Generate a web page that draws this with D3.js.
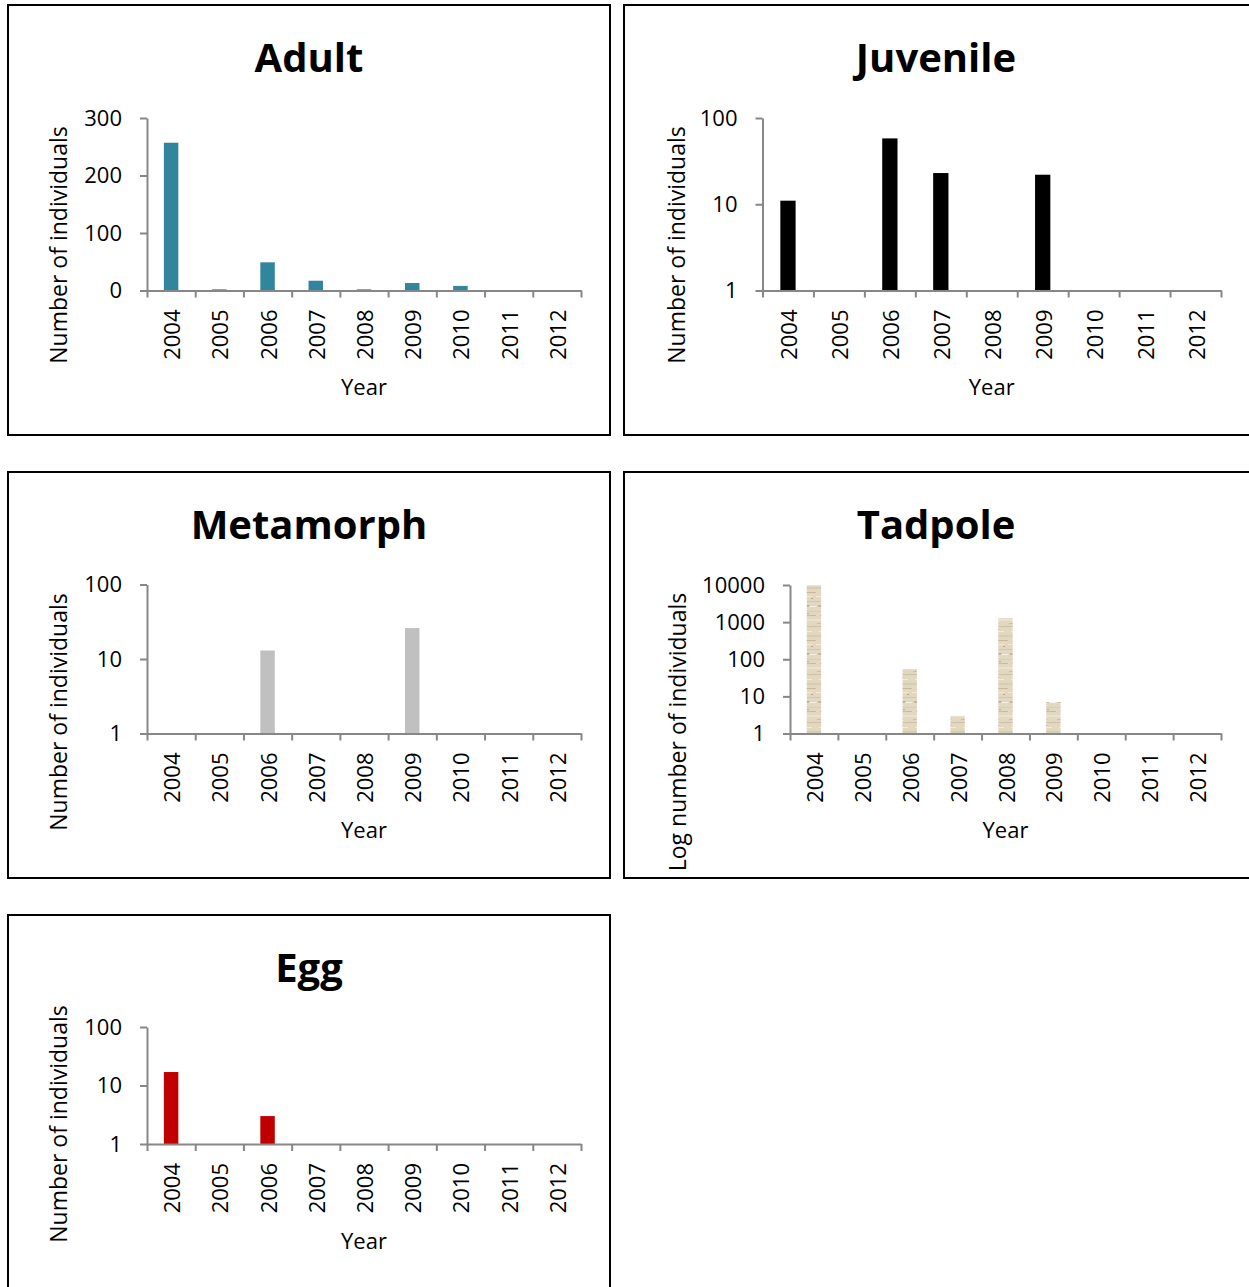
<!DOCTYPE html>
<html lang="en">
<head>
    <meta charset="UTF-8">
    <title>Life stage counts by year</title>
    <style>
        body {
            margin: 0;
            padding: 0;
            background: #fff;
        }
        svg text {
            font-family: 'Open Sans', sans-serif;
            fill: #000;
        }
        .panel-box {
            fill: none;
            stroke: #000;
            stroke-width: 2px;
        }
        .axis path, .axis line {
            stroke: #878787;
            stroke-width: 2px;
        }
        .axis text {
            font-size: 22px;
        }
        .panel-title {
            font-size: 40px;
            font-weight: bold;
        }
        .axis-title {
            font-size: 22px;
        }
        .y-title {
            font-size: 23px;
        }
    </style>
</head>
<body>
    <svg id="chart"></svg>

    <script src="https://d3js.org/d3.v7.min.js"></script>
    <script>
        // Data
        const years = ['2004', '2005', '2006', '2007', '2008', '2009', '2010', '2011', '2012'];
        const adultCounts = [257, 2, 49, 17, 2, 13, 8, 0, 0];
        const juvenileCounts = [11, 0, 58, 23, 0, 22, 0, 0, 0];
        const metamorphCounts = [0, 0, 13, 0, 0, 26, 0, 0, 0];
        const tadpoleCounts = [9800, 0, 54, 3, 1280, 7, 0, 0, 0];
        const eggCounts = [17, 0, 3, 0, 0, 0, 0, 0, 0];

        const adultTicks = [0, 100, 200, 300];
        const logTicks = [1, 10, 100];
        const tadpoleTicks = [1, 10, 100, 1000, 10000];

        // Layout of each panel (box, plot area, label spots)
        const panels = [
            { title: 'Adult', yTitle: 'Number of individuals', values: adultCounts, ticks: adultTicks,
              log: false, fill: '#31859C',
              box: [8, 5, 602, 430], x0: 147, x1: 581, yTop: 118, yBot: 290.5, titleX: 309, yTitleX: 67, yTitleY: 245 },
            { title: 'Juvenile', yTitle: 'Number of individuals', values: juvenileCounts, ticks: logTicks,
              log: true, fill: '#000',
              box: [624, 5, 660, 430], x0: 762.5, x1: 1221, yTop: 118, yBot: 290.5, titleX: 936, yTitleX: 685, yTitleY: 245 },
            { title: 'Metamorph', yTitle: 'Number of individuals', values: metamorphCounts, ticks: logTicks,
              log: true, fill: '#C0C0C0',
              box: [8, 472, 602, 406], x0: 147, x1: 581, yTop: 584.5, yBot: 733.5, titleX: 309, yTitleX: 67, yTitleY: 712 },
            { title: 'Tadpole', yTitle: 'Log number of individuals', values: tadpoleCounts, ticks: tadpoleTicks,
              log: true, fill: 'url(#papyrus)',
              box: [624, 472, 660, 406], x0: 790, x1: 1221, yTop: 585, yBot: 733.5, titleX: 936, yTitleX: 686, yTitleY: 732 },
            { title: 'Egg', yTitle: 'Number of individuals', values: eggCounts, ticks: logTicks,
              log: true, fill: '#C00000',
              box: [8, 915, 602, 400], x0: 147, x1: 581, yTop: 1027, yBot: 1144, titleX: 309, yTitleX: 67, yTitleY: 1124 }
        ];

        const width = 1249;
        const height = 1287;

        const svg = d3.select('#chart')
            .attr('width', width)
            .attr('height', height);

        svg.append('rect')
            .attr('width', width)
            .attr('height', height)
            .attr('fill', '#fff');

        // Texture for the tadpole bars (beige paper look)
        const pattern = svg.append('defs').append('pattern')
            .attr('id', 'papyrus')
            .attr('patternUnits', 'userSpaceOnUse')
            .attr('width', 16)
            .attr('height', 48);
        pattern.append('rect').attr('width', 16).attr('height', 48).attr('fill', '#E2D8C2');
        const streaks = [
            [0, 2, 16, 1, '#D0C2A5'], [3, 7, 9, 1, '#F1EBDF'], [0, 11, 16, 2, '#D8CCB2'],
            [6, 16, 10, 1, '#C6B798'], [0, 20, 12, 1, '#EFE8DA'], [0, 25, 16, 1, '#D3C6AA'],
            [2, 29, 8, 2, '#C4B596'], [9, 30, 7, 1, '#F3EEE4'], [0, 35, 16, 1, '#D9CEB5'],
            [4, 39, 12, 1, '#C9BB9D'], [0, 43, 16, 2, '#EAE2D1'], [1, 47, 6, 1, '#CCBEA1'],
            [5, 5, 2, 1, '#B8A988'], [11, 22, 2, 1, '#B8A988'], [7, 37, 2, 1, '#BBAC8C']
        ];
        streaks.forEach(s => {
            pattern.append('rect')
                .attr('x', s[0]).attr('y', s[1])
                .attr('width', s[2]).attr('height', s[3])
                .attr('fill', s[4]);
        });

        panels.forEach(drawPanel);

        function drawPanel(p) {
            const g = svg.append('g');

            g.append('rect')
                .attr('class', 'panel-box')
                .attr('x', p.box[0])
                .attr('y', p.box[1])
                .attr('width', p.box[2])
                .attr('height', p.box[3]);

            g.append('text')
                .attr('class', 'panel-title')
                .attr('x', p.titleX)
                .attr('y', p.box[1] + 67)
                .attr('text-anchor', 'middle')
                .text(p.title);

            // Scales
            const x = d3.scaleBand()
                .domain(years)
                .range([p.x0, p.x1])
                .padding(0);

            const xTicks = d3.scaleLinear()
                .domain([0, years.length])
                .range([p.x0, p.x1]);

            const y = p.log
                ? d3.scaleLog().domain([1, d3.max(p.ticks)]).range([p.yBot, p.yTop])
                : d3.scaleLinear().domain([0, d3.max(p.ticks)]).range([p.yBot, p.yTop]);

            // Bars (zero counts have no bar)
            const barW = x.bandwidth() * 0.3;
            g.selectAll('.bar')
                .data(years.map((yr, i) => ({ year: yr, value: p.values[i] })).filter(d => d.value > 0))
                .enter()
                .append('rect')
                .attr('class', 'bar')
                .attr('x', d => x(d.year) + (x.bandwidth() - barW) / 2)
                .attr('width', barW)
                .attr('y', d => y(d.value))
                .attr('height', d => y(p.log ? 1 : 0) - y(d.value))
                .attr('fill', p.fill);

            // Y axis
            g.append('g')
                .attr('class', 'axis')
                .attr('transform', `translate(${p.x0},0)`)
                .call(d3.axisLeft(y)
                    .tickValues(p.ticks)
                    .tickFormat(d3.format('d'))
                    .tickSize(7)
                    .tickSizeOuter(0)
                    .tickPadding(18));

            // X axis: tick marks between categories
            g.append('g')
                .attr('class', 'axis')
                .attr('transform', `translate(0,${p.yBot})`)
                .call(d3.axisBottom(xTicks)
                    .tickValues(d3.range(years.length + 1))
                    .tickFormat('')
                    .tickSize(7)
                    .tickSizeOuter(0));

            // Rotated year labels
            g.selectAll('.year-label')
                .data(years)
                .enter()
                .append('text')
                .attr('class', 'year-label')
                .style('font-size', '22px')
                .attr('text-anchor', 'end')
                .attr('transform', d => `translate(${x(d) + x.bandwidth() / 2 + 9},${p.yBot + 19}) rotate(-90)`)
                .text(d => d);

            g.append('text')
                .attr('class', 'axis-title')
                .attr('x', (p.x0 + p.x1) / 2)
                .attr('y', p.yBot + 104.5)
                .attr('text-anchor', 'middle')
                .text('Year');

            g.append('text')
                .attr('class', 'y-title')
                .attr('text-anchor', 'middle')
                .attr('transform', `translate(${p.yTitleX},${p.yTitleY}) rotate(-90)`)
                .text(p.yTitle);
        }
    </script>
</body>
</html>
